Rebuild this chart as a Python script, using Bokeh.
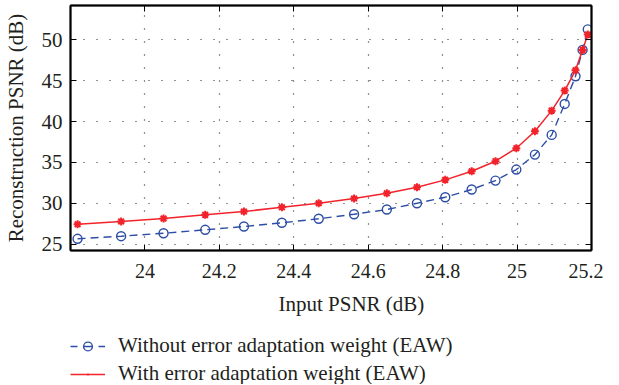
from bokeh.plotting import figure
from bokeh.layouts import column
from bokeh.models import (Range1d, LinearAxis, FixedTicker, Legend, LegendItem, Title)
from bokeh.embed import file_html
from bokeh.resources import INLINE

# ---- data ----
input_psnr = [23.819, 23.936, 24.050, 24.162, 24.266, 24.368, 24.467, 24.562,
              24.650, 24.731, 24.807, 24.878, 24.942, 24.998, 25.048, 25.093,
              25.128, 25.157, 25.176, 25.190]
without_eaw = [25.66, 25.98, 26.34, 26.76, 27.16, 27.62, 28.11, 28.67,
               29.24, 30.01, 30.75, 31.69, 32.78, 34.13, 35.96, 38.37,
               42.16, 45.54, 48.77, 51.28]
with_eaw = [27.44, 27.78, 28.14, 28.59, 29.00, 29.52, 30.01, 30.59,
            31.23, 31.97, 32.87, 33.92, 35.15, 36.74, 38.81, 41.34,
            43.79, 46.27, 48.77, 50.64]
x_ticks = [24, 24.2, 24.4, 24.6, 24.8, 25, 25.2]
x_tick_labels = ["24", "24.2", "24.4", "24.6", "24.8", "25", "25.2"]
y_ticks = [25, 30, 35, 40, 45, 50]
label_without = "Without error adaptation weight (EAW)"
label_with = "With error adaptation weight (EAW)"
x_title = "Input PSNR (dB)"
y_title = "Reconstruction PSNR (dB)"

FONT = "Liberation Serif"
TXT = "#231f20"
BLUE = "#2e4ea6"
RED = "#f2232b"

p = figure(width=603, height=333, output_backend="svg", toolbar_location=None,
           x_range=Range1d(23.8, 25.2), y_range=Range1d(24.23, 54.2),
           min_border_left=63, min_border_right=12, min_border_top=5,
           min_border_bottom=83)
p.background_fill_color = "white"
p.border_fill_color = "white"
p.outline_line_color = "black"
p.outline_line_width = 1.5

for ax in (p.xaxis[0], p.yaxis[0]):
    ax.major_tick_in = 6
    ax.major_tick_out = 0
    ax.minor_tick_line_color = None
    ax.axis_line_color = "black"
    ax.axis_line_width = 2
    ax.major_tick_line_color = "black"
    ax.major_label_text_font = FONT
    ax.major_label_text_color = TXT
    ax.axis_label_text_font = FONT
    ax.axis_label_text_font_style = "normal"
    ax.axis_label_text_color = TXT
    ax.axis_label_text_font_size = "21px"

p.xaxis.ticker = FixedTicker(ticks=x_ticks)
p.xaxis.major_label_overrides = {v: s for v, s in zip(x_ticks, x_tick_labels)}
p.xaxis.major_label_text_font_size = "20px"
p.xaxis.major_label_standoff = 13

p.yaxis.ticker = FixedTicker(ticks=y_ticks)
p.yaxis.major_label_text_font_size = "21px"
p.yaxis.major_label_standoff = 8
p.yaxis.axis_label = y_title
p.yaxis.axis_label_standoff = 11

# x-axis title (sits a little right of the frame centre, as in the reference)
xt = Title(text=x_title, align="left", offset=208, text_font=FONT,
           text_font_size="21px", text_font_style="normal", text_color=TXT,
           standoff=18)
p.add_layout(xt, "below")

top = LinearAxis(ticker=FixedTicker(ticks=x_ticks), major_label_text_font_size="0px",
                 major_tick_in=6, major_tick_out=0, minor_tick_line_color=None,
                 major_label_standoff=0, axis_line_width=2)
right = LinearAxis(ticker=FixedTicker(ticks=y_ticks), major_label_text_font_size="0px",
                   major_tick_in=6, major_tick_out=0, minor_tick_line_color=None,
                   major_label_standoff=0, axis_line_width=2)
p.add_layout(top, "above")
p.add_layout(right, "right")

for g in (p.xgrid[0], p.ygrid[0]):
    g.grid_line_color = "#222222"
    g.grid_line_dash = "1 12"
    g.grid_line_width = 1.2
p.xgrid.ticker = FixedTicker(ticks=x_ticks)
p.ygrid.ticker = FixedTicker(ticks=y_ticks)

l1 = p.line(input_psnr, without_eaw, line_color=BLUE, line_width=1.4, line_dash="8 5")
s1 = p.scatter(input_psnr, without_eaw, marker="circle", size=9, fill_color=None,
               line_color=BLUE, line_width=1.4)
l2 = p.line(input_psnr, with_eaw, line_color=RED, line_width=1.5)
s2 = p.scatter(input_psnr, with_eaw, marker="asterisk", size=8,
               line_color=RED, line_width=2)
s2b = p.scatter(input_psnr, with_eaw, marker="circle", size=4,
                line_color=RED, fill_color=RED)

# legend panel below the plot: same series, drawn outside this panel's view,
# only so that the legend has glyphs to show
q = figure(width=603, height=51, output_backend="svg", toolbar_location=None,
           x_range=Range1d(0, 1), y_range=Range1d(0, 1),
           min_border_left=63, min_border_right=0, min_border_top=0,
           min_border_bottom=0, x_axis_location=None, y_axis_location=None)
q.outline_line_color = None
q.xgrid.visible = False
q.ygrid.visible = False
ql1 = q.line(input_psnr, without_eaw, line_color=BLUE, line_width=1.4,
             line_dash="7 6 9 6 7")
qs1 = q.scatter(input_psnr, without_eaw, marker="circle", size=8, fill_color=None,
                line_color=BLUE, line_width=1.4)
ql2 = q.line(input_psnr, with_eaw, line_color=RED, line_width=1.5)
qs2 = q.scatter(input_psnr, with_eaw, marker="dot", size=8,
                line_color=RED, fill_color=RED, line_width=4)

legend = Legend(items=[LegendItem(label=label_without, renderers=[ql1, qs1]),
                       LegendItem(label=label_with, renderers=[ql2, qs2])],
                location="top_left", orientation="vertical",
                label_text_font=FONT, label_text_font_size="21px",
                label_text_color=TXT, glyph_width=35, glyph_height=22,
                label_height=22, label_standoff=13, spacing=3, padding=0,
                margin=0, border_line_color=None, background_fill_alpha=0)
q.add_layout(legend, "center")

layout = column(p, q, spacing=0)
open("out.html", "w").write(file_html(layout, INLINE))
